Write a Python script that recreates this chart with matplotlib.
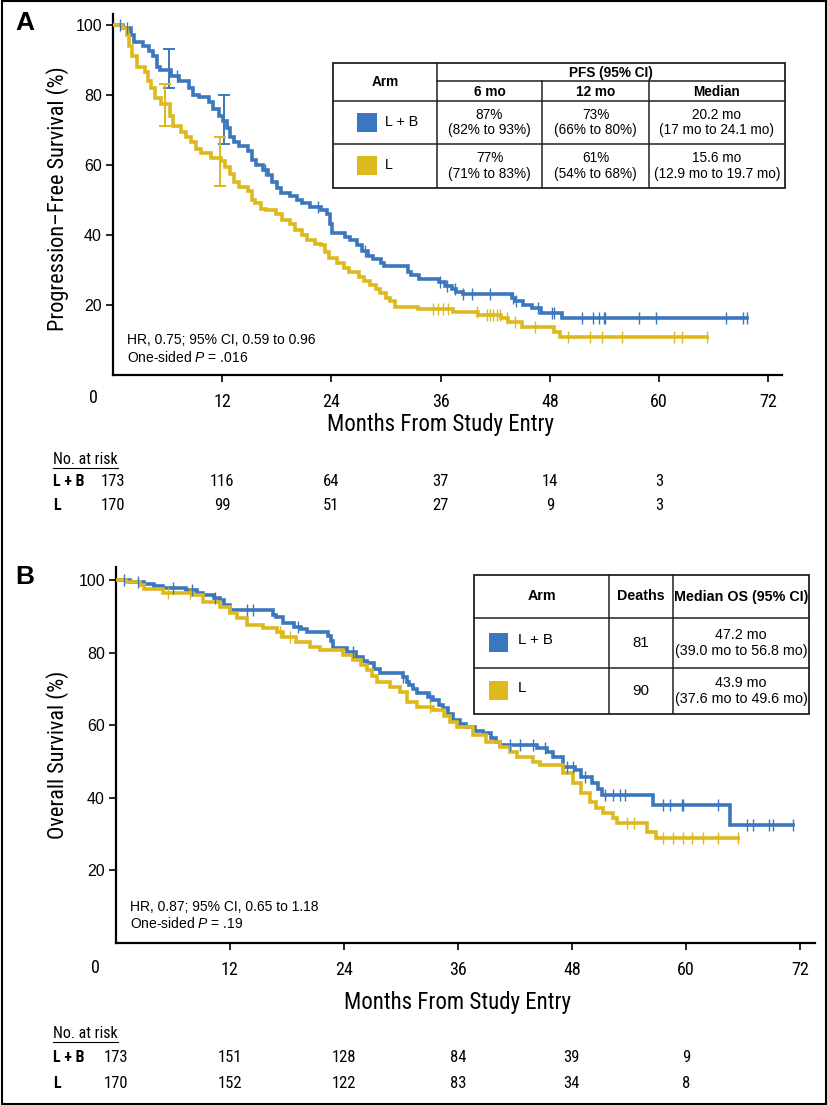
import numpy as np
import matplotlib
matplotlib.use('Agg')
import matplotlib.pyplot as plt
from matplotlib import font_manager as fm
from matplotlib.patches import Rectangle
from matplotlib.lines import Line2D
import matplotlib.transforms as mtransforms

# ---------------- data ----------------
months_ticks = [12, 24, 36, 48, 60, 72]
surv_ticks = [20, 40, 60, 80, 100]
risk_months = [0, 12, 24, 36, 48, 60]
arms = ['L + B', 'L']

# Panel A: progression-free survival (step curves)
pfs_lb_t = [0, 1.1, 2.0, 2.3, 3.3, 4.0, 4.4, 4.8, 5.2, 6.4, 7.2, 8.3, 8.8, 9.5, 10.5, 11.0, 11.6,
            12.1, 12.5, 12.9, 13.3, 13.8, 14.8, 15.3, 15.7, 16.5, 17.0, 17.5, 18.0, 18.5, 19.5,
            20.2, 20.8, 21.6, 22.8, 23.5, 23.8, 24.1, 25.5, 26.0, 26.8, 27.4, 28.0, 28.6, 29.4,
            29.8, 32.4, 32.7, 33.6, 35.8, 36.5, 37.2, 37.7, 38.5, 43.8, 44.2, 45.0, 46.0, 47.0,
            49.3]
pfs_lb_s = [100, 99, 97, 95, 94, 92.5, 91, 88, 87, 85.5, 84, 82, 80, 79.3, 78, 76, 74,
            72.5, 70.5, 68, 66.5, 65.5, 64, 61.5, 60, 58.5, 57, 55, 53.5, 52, 51,
            50, 49, 48, 47, 46, 43, 40.5, 39.5, 38.6, 37, 35.5, 34, 33, 32,
            31, 29.5, 28.6, 27.5, 26.5, 25.5, 24.5, 23.8, 23, 22, 21, 20, 19.2, 17.7,
            16.3]
pfs_lb_end = 69.7
pfs_lb_cens = [0.8, 1.5, 7.0, 16.7, 22.5, 27.7, 35.9, 36.7, 37.6, 38.5, 39.4, 41.4, 43.9, 44.3,
               46.7, 48.2, 48.4, 51.5, 52.7, 53.4, 53.9, 54.1, 57.8, 59.7, 67.3, 69.2, 69.6]

pfs_l_t = [0, 1.0, 1.5, 1.8, 2.1, 2.6, 3.5, 3.9, 4.2, 4.6, 5.3, 6.3, 6.6, 7.5, 8.0, 8.6, 9.1,
           9.7, 10.8, 11.9, 12.3, 12.8, 13.3, 13.8, 14.8, 15.3, 15.6, 16.3, 16.8, 17.9, 18.6,
           19.5, 20.0, 20.8, 21.3, 22.2, 22.9, 23.3, 23.7, 24.6, 25.4, 25.9, 27.0, 27.6, 28.2,
           28.9, 29.3, 30.0, 30.4, 31.0, 33.5, 37.4, 40.1, 42.6, 43.4, 44.9, 48.4, 49.1]
pfs_l_s = [100, 99, 97, 94, 91, 88, 86.5, 84, 82, 79, 77.5, 74, 71, 69.5, 68, 66.5, 64.5,
           63.5, 62, 61, 59.5, 57.5, 55, 53.8, 52.5, 50, 49, 47.5, 47, 46, 44.3,
           43, 41.4, 40, 38.6, 37.5, 37, 35, 33.5, 32, 30.5, 29.5, 28, 26.8, 25.7,
           24.5, 23.3, 22, 21.2, 19.4, 18.9, 18.0, 17.1, 16.3, 15.1, 13.7, 12.3, 10.9]
pfs_l_end = 65.3
pfs_l_cens = [35.2, 35.7, 36.3, 36.8, 40.0, 41.1, 41.4, 41.8, 42.2, 42.5, 43.3, 44.2, 46.4,
              50.0, 52.4, 53.7, 55.9, 61.6, 62.5, 65.3]

# Panel B: overall survival
os_lb_t = [0, 1.5, 2.9, 4.0, 5.0, 7.4, 8.5, 9.2, 10.3, 11.0, 11.4, 12.0, 16.5, 16.8, 17.6, 18.7,
           19.5, 20.1, 22.3, 22.6, 22.9, 24.3, 25.3, 26.0, 26.4, 27.2, 27.8, 30.2, 30.6, 30.9,
           31.3, 31.7, 32.8, 33.4, 34.0, 34.4, 35.0, 35.5, 36.2, 36.9, 37.8, 38.6, 39.5, 40.0,
           40.4, 44.3, 45.4, 46.0, 47.1, 48.3, 49.0, 50.1, 50.8, 51.2, 56.5, 64.6]
os_lb_s = [100, 99.4, 99, 98.3, 97.8, 97.2, 96.5, 95.9, 95, 94.5, 93, 91.7, 90.5, 89.8, 88.2, 87,
           86.4, 85.7, 84.5, 83.3, 81.3, 80.2, 78.8, 77.8, 77.1, 75.5, 74.4, 73.3, 72, 71,
           70, 68.9, 67.8, 66.9, 65.6, 64.7, 63, 61.4, 60.3, 59.5, 58.5, 57.9, 56.5, 55.5,
           54.5, 53.7, 52.5, 51.2, 48.5, 47.6, 45.7, 44, 42.4, 40.8, 38, 32.5]
os_lb_end = 71.3
os_lb_cens = [0.8, 2.3, 6.0, 8.0, 10.4, 13.8, 14.4, 19.2, 25.0, 30.2, 33.1, 41.5, 42.5, 43.9,
              45.2, 47.5, 48.1, 49.4, 51.5, 52.3, 53.1, 53.6, 57.6, 58.3, 59.6, 59.7, 63.4,
              66.4, 67.1, 68.8, 69.2, 71.3]

os_l_t = [0, 1.1, 2.5, 2.9, 5.0, 8.1, 9.2, 11.0, 12.0, 12.7, 13.8, 15.5, 16.9, 17.6, 19.0, 20.4,
          21.5, 23.9, 25.0, 25.8, 26.4, 27.0, 27.5, 28.8, 29.9, 30.6, 31.7, 33.4, 34.5, 35.2,
          35.9, 37.6, 39.0, 40.4, 41.5, 42.2, 43.9, 44.6, 47.1, 48.1, 49.0, 49.9, 50.5, 51.3,
          52.3, 52.7, 55.9, 56.9]
os_l_s = [100, 99.4, 98.6, 97.5, 96.4, 95.9, 94, 92.6, 90.9, 89.5, 87.6, 86.8, 85.7, 84.3, 82.9, 81.5,
          80.7, 79.3, 78, 76.5, 75.2, 73.5, 71.9, 70.5, 69.1, 66.4, 65, 64.2, 62.5, 61,
          59.5, 57.3, 55.5, 54, 52.5, 51.2, 49.8, 49, 46.8, 44, 41.3, 38.8, 37.3, 35.8,
          34.4, 33, 30.6, 28.9]
os_l_end = 65.5
os_l_cens = [5.5, 7.8, 17.3, 18.3, 33.1, 53.8, 54.5, 57.6, 58.6, 59.7, 60.7, 61.8, 63.4, 65.5]

# Table values
ci_months = [6, 12]
pfs6 = [87, 77]
pfs6_lo = [82, 71]
pfs6_hi = [93, 83]
pfs12 = [73, 61]
pfs12_lo = [66, 54]
pfs12_hi = [80, 68]
pfs_median = ['20.2', '15.6']
pfs_median_lo = ['17', '12.9']
pfs_median_hi = ['24.1', '19.7']
os_deaths = [81, 90]
os_median = ['47.2', '43.9']
os_median_lo = ['39.0', '37.6']
os_median_hi = ['56.8', '49.6']

pfs_risk = {'L + B': [173, 116, 64, 37, 14, 3], 'L': [170, 99, 51, 27, 9, 3]}
os_risk = {'L + B': [173, 151, 128, 84, 39, 9], 'L': [170, 152, 122, 83, 34, 8]}

pfs_hr_text = ['HR, 0.75; 95% CI, 0.59 to 0.96', 'One-sided $P$ = .016']
os_hr_text = ['HR, 0.87; 95% CI, 0.65 to 1.18', 'One-sided $P$ = .19']

# ---------------- style ----------------
BLUE = '#3A77BF'
GOLD = '#DDB91E'
colors = {'L + B': BLUE, 'L': GOLD}

names = {f.name for f in fm.fontManager.ttflist}


def pick(options):
    for o in options:
        if o in names:
            return o
    return 'DejaVu Sans'


REG = pick(['Liberation Sans', 'Arimo', 'DejaVu Sans'])
NAR = pick(['Nimbus Sans Narrow', 'Liberation Sans Narrow', 'Roboto Condensed', 'Archivo Narrow',
            'PT Sans Narrow', 'Asap Condensed', 'Barlow Condensed'])
plt.rcParams['font.family'] = REG
plt.rcParams['mathtext.fontset'] = 'custom'
plt.rcParams['mathtext.rm'] = REG
plt.rcParams['mathtext.it'] = REG + ':italic'

W, H = 828, 1105
fig = plt.figure(figsize=(W / 100, H / 100), dpi=100)


def fx(px):
    return px / W


def fy(py):
    return 1 - py / H


def ax_px(l, t, r, b):
    return fig.add_axes([l / W, 1 - b / H, (r - l) / W, (b - t) / H])


def surv_at(t, s, x):
    i = np.searchsorted(np.asarray(t), x, side='right') - 1
    return np.asarray(s)[i]


def draw_km(ax, t, s, end, cens, color):
    tt = list(t) + [end]
    ss = list(s) + [s[-1]]
    ax.step(tt, ss, where='post', color=color, lw=2.6, solid_joinstyle='miter', zorder=3)
    ax.plot(cens, [surv_at(t, s, c) for c in cens], ls='none', marker='|', ms=8.5,
            mew=1.0, color=color, zorder=4)


def setup(ax, xmax, ymax):
    ax.set_xlim(0, xmax)
    ax.set_ylim(0, ymax)
    for sp in ['top', 'right']:
        ax.spines[sp].set_visible(False)
    for sp in ['left', 'bottom']:
        ax.spines[sp].set_linewidth(1.6)
    ax.set_xticks(months_ticks)
    ax.set_xticklabels([str(m) for m in months_ticks], fontfamily=NAR, fontsize=13)
    ax.set_yticks(surv_ticks)
    ax.set_yticklabels([str(v) for v in surv_ticks], fontfamily=REG, fontsize=11.5)
    ax.tick_params(axis='x', length=5, width=1.2, pad=8)
    ax.tick_params(axis='y', length=5, width=1.2, pad=3)


def panel(ax_box, t_lb, s_lb, e_lb, c_lb, t_l, s_l, e_l, c_l, xmax, ymax, ylab, ylab_y,
          letter, letter_y, hr, hr_xy, zero_xy, xlab_y, risk, risk_ys):
    ax = ax_px(*ax_box)
    setup(ax, xmax, ymax)
    draw_km(ax, t_lb, s_lb, e_lb, c_lb, BLUE)
    draw_km(ax, t_l, s_l, e_l, c_l, GOLD)
    fig.text(fx(58), fy(ylab_y), ylab, rotation=90, ha='center', va='center',
             family=NAR, fontsize=16)
    fig.text(fx(25), fy(letter_y), letter, ha='center', va='center', weight='bold', fontsize=19)
    fig.text(fx(hr_xy[0]), fy(hr_xy[1]), hr[0], ha='left', va='center', fontsize=10)
    fig.text(fx(hr_xy[0]), fy(hr_xy[1] + 17), hr[1], ha='left', va='center', fontsize=10)
    fig.text(fx(zero_xy[0]), fy(zero_xy[1]), '0', ha='center', va='center', family=NAR,
             fontsize=13)
    x_mid = ax_box[0] + (ax_box[2] - ax_box[0]) * (36 / xmax)
    fig.text(fx(x_mid), fy(xlab_y), 'Months From Study Entry', ha='center', va='center',
             family=NAR, fontsize=16.5)
    # number at risk
    t0 = fig.text(fx(53), fy(risk_ys[0]), 'No. at risk', ha='left', va='center', family=NAR,
                  fontsize=11.5)
    blend = mtransforms.blended_transform_factory(ax.transData, fig.transFigure)
    for arm, ry in zip(arms, risk_ys[1:]):
        fig.text(fx(53), fy(ry), arm, ha='left', va='center', family=NAR, weight='bold',
                 fontsize=11.5)
        for m, n in zip(risk_months, risk[arm]):
            ax.text(m, fy(ry), str(n), transform=blend, ha='center', va='center', family=NAR,
                    fontsize=12, clip_on=False)
    return ax, t0


axA, nA = panel((113, 14, 782, 375), pfs_lb_t, pfs_lb_s, pfs_lb_end, pfs_lb_cens,
                pfs_l_t, pfs_l_s, pfs_l_end, pfs_l_cens, 73.5, 103.1,
                'Progression\u2013Free Survival (%)', 199, 'A', 23, pfs_hr_text, (127, 340),
                (93, 398), 425, pfs_risk, [459, 482, 506])

# error bars at 6 and 12 months (dodged slightly)
for arm, dodge, c in [('L + B', 0.2, BLUE), ('L', -0.25, GOLD)]:
    i = arms.index(arm)
    xs = [m + dodge for m in ci_months]
    ys = [pfs6[i], pfs12[i]]
    lo = [pfs6[i] - pfs6_lo[i], pfs12[i] - pfs12_lo[i]]
    hi = [pfs6_hi[i] - pfs6[i], pfs12_hi[i] - pfs12[i]]
    axA.errorbar(xs, ys, yerr=[lo, hi], fmt='none', ecolor=c, elinewidth=1.4, capsize=4,
                 capthick=1.4, zorder=5)

axB, nB = panel((116, 567, 815, 943), os_lb_t, os_lb_s, os_lb_end, os_lb_cens,
                os_l_t, os_l_s, os_l_end, os_l_cens, 73.6, 103.6,
                'Overall Survival (%)', 755, 'B', 577, os_hr_text, (130, 907),
                (95, 968), 1003, os_risk, [1033, 1057, 1083])

# ---------------- tables (overlay in pixel coords) ----------------
ov = fig.add_axes([0, 0, 1, 1], zorder=10)
ov.set_xlim(0, W)
ov.set_ylim(H, 0)
ov.axis('off')
ov.patch.set_alpha(0)


def hline(x0, x1, y, lw=1.1):
    ov.add_line(Line2D([x0, x1], [y, y], color='#222222', lw=lw))


def vline(x, y0, y1, lw=1.1):
    ov.add_line(Line2D([x, x], [y0, y1], color='#222222', lw=lw))


def box(l, t, r, b):
    ov.add_patch(Rectangle((l, t), r - l, b - t, fill=True, facecolor='white',
                           edgecolor='#222222', lw=1.3))


# Panel A table
L, c1, c2, c3, R = 333, 437, 542, 649, 785
T, hm, hb, r1, B = 63, 81, 101, 144, 188
box(L, T, R, B)
vline(c1, T, B)
vline(c2, hm, B)
vline(c3, hm, B)
hline(c1, R, hm)
hline(L, R, hb)
hline(L, R, r1)
fsA = 9.8
ov.text((L + c1) / 2, (T + hb) / 2, 'Arm', ha='center', va='center', weight='bold', fontsize=fsA)
ov.text((c1 + R) / 2, (T + hm) / 2 + 1, 'PFS (95% CI)', ha='center', va='center', weight='bold',
        fontsize=fsA)
for (a, b_), lab in zip([(c1, c2), (c2, c3), (c3, R)], ['6 mo', '12 mo', 'Median']):
    ov.text((a + b_) / 2, (hm + hb) / 2 + 1, lab, ha='center', va='center', weight='bold',
            fontsize=fsA)
for i, (ya, yb) in enumerate([(hb, r1), (r1, B)]):
    yc = (ya + yb) / 2
    ov.add_patch(Rectangle((357, yc - 10), 20, 19, facecolor=colors[arms[i]], edgecolor='none'))
    ov.text(385, yc - 1, arms[i], ha='left', va='center', fontsize=fsA + 0.5)
    ov.text((c1 + c2) / 2, yc, f'{pfs6[i]}%\n({pfs6_lo[i]}% to {pfs6_hi[i]}%)', ha='center',
            va='center', fontsize=fsA, linespacing=1.1)
    ov.text((c2 + c3) / 2, yc, f'{pfs12[i]}%\n({pfs12_lo[i]}% to {pfs12_hi[i]}%)', ha='center',
            va='center', fontsize=fsA, linespacing=1.1)
    ov.text((c3 + R) / 2, yc, f'{pfs_median[i]} mo\n({pfs_median_lo[i]} mo to {pfs_median_hi[i]} mo)',
            ha='center', va='center', fontsize=fsA, linespacing=1.1)

# Panel B table
L, c1, c2, R = 474, 609, 673, 809
T, hb, r1, B = 575, 618, 668, 714
box(L, T, R, B)
vline(c1, T, B)
vline(c2, T, B)
hline(L, R, hb)
hline(L, R, r1)
fsB = 10.3
for (a, b_), lab in zip([(L, c1), (c1, c2), (c2, R)], ['Arm', 'Deaths', 'Median OS (95% CI)']):
    ov.text((a + b_) / 2, (T + hb) / 2, lab, ha='center', va='center', weight='bold', fontsize=fsB)
for i, (ya, yb) in enumerate([(hb, r1), (r1, B)]):
    yc = (ya + yb) / 2
    ov.add_patch(Rectangle((489, yc - 10), 19, 19, facecolor=colors[arms[i]], edgecolor='none'))
    ov.text(518, yc - 3, arms[i], ha='left', va='center', fontsize=fsB + 0.5)
    ov.text((c1 + c2) / 2, yc, str(os_deaths[i]), ha='center', va='center', fontsize=fsB + 0.5)
    ov.text((c2 + R) / 2, yc, f'{os_median[i]} mo\n({os_median_lo[i]} mo to {os_median_hi[i]} mo)',
            ha='center', va='center', fontsize=fsB, linespacing=1.1)

# outer frame
fig.patches.append(Rectangle((0.002, 0.001), 0.996, 0.998, transform=fig.transFigure,
                             fill=False, edgecolor='black', lw=1.5))

# underline "No. at risk"
fig.canvas.draw()
r = fig.canvas.get_renderer()
for t in [nA, nB]:
    bb = t.get_window_extent(renderer=r)
    y = bb.y0 - 1
    fig.lines.append(Line2D([bb.x0 / W, bb.x1 / W], [y / H, y / H], transform=fig.transFigure,
                            color='black', lw=0.8))

fig.savefig('out.png', dpi=100)
